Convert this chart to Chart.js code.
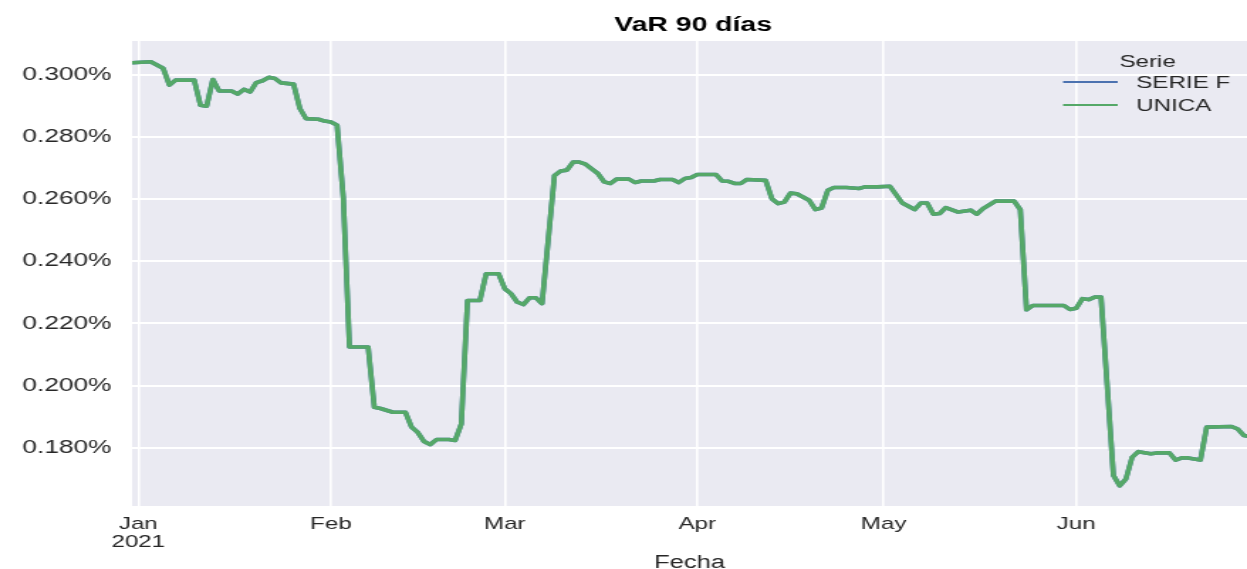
<!DOCTYPE html>
<html>
<head>
<meta charset="utf-8">
<script src="https://cdn.jsdelivr.net/npm/chart.js@4.4.1/dist/chart.umd.min.js"></script>
<style>
  html, body { margin: 0; padding: 0; background: #ffffff; overflow: hidden; }
</style>
</head>
<body>
<canvas id="c" width="878" height="569" style="display:block;width:1247px;height:569px;"></canvas>
<script>
// ---- data (values in %) ----
const dates = [
  '2020-12-31','2021-01-03','2021-01-05','2021-01-06','2021-01-07','2021-01-10','2021-01-11','2021-01-12',
  '2021-01-13','2021-01-14','2021-01-16','2021-01-17','2021-01-18','2021-01-19','2021-01-20','2021-01-21',
  '2021-01-22','2021-01-23','2021-01-24','2021-01-26','2021-01-27','2021-01-28','2021-01-30','2021-01-31',
  '2021-02-01','2021-02-02','2021-02-03','2021-02-04','2021-02-07','2021-02-08','2021-02-09','2021-02-11',
  '2021-02-13','2021-02-14','2021-02-15','2021-02-16','2021-02-17','2021-02-18','2021-02-20','2021-02-21',
  '2021-02-22','2021-02-23','2021-02-25','2021-02-26','2021-02-28',
  '2021-03-01','2021-03-02','2021-03-03','2021-03-04','2021-03-05','2021-03-06','2021-03-07','2021-03-09',
  '2021-03-10','2021-03-11','2021-03-12','2021-03-13','2021-03-14','2021-03-16','2021-03-17','2021-03-18',
  '2021-03-19','2021-03-21','2021-03-22','2021-03-23','2021-03-25','2021-03-26','2021-03-28','2021-03-29',
  '2021-03-30','2021-03-31',
  '2021-04-01','2021-04-04','2021-04-05','2021-04-06','2021-04-07','2021-04-08','2021-04-09','2021-04-12',
  '2021-04-13','2021-04-14','2021-04-15','2021-04-16','2021-04-17','2021-04-19','2021-04-20','2021-04-21',
  '2021-04-22','2021-04-23','2021-04-25','2021-04-27','2021-04-28','2021-04-30',
  '2021-05-02','2021-05-04','2021-05-06','2021-05-07','2021-05-08','2021-05-09','2021-05-10','2021-05-11',
  '2021-05-13','2021-05-15','2021-05-16','2021-05-17','2021-05-19','2021-05-22','2021-05-23','2021-05-24',
  '2021-05-25','2021-05-30','2021-05-31',
  '2021-06-01','2021-06-02','2021-06-03','2021-06-04','2021-06-05','2021-06-07','2021-06-08','2021-06-09',
  '2021-06-10','2021-06-11','2021-06-13','2021-06-14','2021-06-16','2021-06-17','2021-06-18','2021-06-19',
  '2021-06-21','2021-06-22','2021-06-26','2021-06-27','2021-06-28','2021-06-29'
];
const unicaValues = [
  0.3040,0.3043,0.3022,0.2968,0.2984,0.2984,0.2903,0.2900,0.2986,0.2949,0.2949,0.2939,0.2954,0.2946,0.2976,0.2982,
  0.2993,0.2989,0.2975,0.2971,0.2893,0.2860,0.2858,0.2852,
  0.2849,0.2839,0.2607,0.2124,0.2124,0.1930,0.1926,0.1914,0.1914,0.1866,0.1849,0.1820,0.1810,0.1826,0.1826,0.1823,
  0.1876,0.2274,0.2274,0.2360,0.2360,
  0.2312,0.2296,0.2269,0.2261,0.2283,0.2283,0.2264,0.2677,0.2691,0.2694,0.2720,0.2720,0.2713,0.2683,0.2656,0.2651,
  0.2665,0.2665,0.2654,0.2659,0.2659,0.2664,0.2664,0.2654,0.2667,0.2670,
  0.2680,0.2680,0.2659,0.2658,0.2651,0.2651,0.2664,0.2661,0.2602,0.2586,0.2591,0.2620,0.2618,0.2597,0.2567,0.2572,
  0.2629,0.2638,0.2638,0.2635,0.2640,0.2640,
  0.2642,0.2588,0.2567,0.2588,0.2588,0.2552,0.2554,0.2573,0.2559,0.2565,0.2552,0.2570,0.2594,0.2594,0.2567,0.2244,
  0.2258,0.2258,0.2245,
  0.2249,0.2280,0.2277,0.2285,0.2285,0.1710,0.1677,0.1699,0.1769,0.1787,0.1780,0.1783,0.1783,0.1760,0.1767,0.1767,
  0.1760,0.1866,0.1868,0.1860,0.1839,0.1835
];
const serieFValues = unicaValues.slice(); // hidden beneath UNICA (identical)
const seriesNames = ['SERIE F', 'UNICA'];
const seriesColors = ['#4C72B0', '#55A868'];
const monthTickDates = ['2021-01-01','2021-02-01','2021-03-01','2021-04-01','2021-05-01','2021-06-01'];
const monthLabels = [['Jan','2021'],'Feb','Mar','Apr','May','Jun'];
const yTicks = [0.18, 0.20, 0.22, 0.24, 0.26, 0.28, 0.30];
const xStartDate = '2020-12-31';
const xEndDate = '2021-06-28';

// ---- helpers ----
const BASE = Date.UTC(2021, 0, 1);
function dayNum(s) {
  const [y, m, d] = s.split('-').map(Number);
  return Math.round((Date.UTC(y, m - 1, d) - BASE) / 86400000);
}
const monthTicks = monthTickDates.map(dayNum);
function toPoints(vals) { return vals.map((v, i) => ({ x: dayNum(dates[i]), y: v })); }

const FONT = '"Liberation Sans", Arial, Helvetica, sans-serif';
const TEXT = '#262626';

const bgPlugin = {
  id: 'bg',
  beforeDraw(chart) {
    const { ctx, chartArea: a } = chart;
    ctx.save();
    ctx.fillStyle = '#EAEAF2';
    ctx.fillRect(a.left, a.top, a.right - a.left, a.bottom - a.top);
    ctx.restore();
  }
};

const overlayPlugin = {
  id: 'overlay',
  afterDraw(chart) {
    const ctx = chart.ctx;
    ctx.save();
    // title
    ctx.fillStyle = '#000000';
    ctx.font = 'bold 20px ' + FONT;
    ctx.textAlign = 'center';
    ctx.textBaseline = 'middle';
    ctx.fillText('VaR 90 días', 488, 25);
    // legend
    ctx.fillStyle = TEXT;
    ctx.font = '17px ' + FONT;
    ctx.fillText('Serie', 808, 62);
    ctx.textAlign = 'left';
    const ys = [82, 105];
    seriesNames.forEach((name, i) => {
      ctx.strokeStyle = seriesColors[i];
      ctx.lineWidth = 2.2;
      ctx.beginPath();
      ctx.moveTo(748.5, ys[i]);
      ctx.lineTo(787, ys[i]);
      ctx.stroke();
      ctx.fillStyle = TEXT;
      ctx.fillText(name, 800, ys[i] + 1);
    });
    ctx.restore();
  }
};

new Chart(document.getElementById('c'), {
  type: 'line',
  data: {
    datasets: [
      { label: seriesNames[0], data: toPoints(serieFValues), borderColor: seriesColors[0], borderWidth: 3.6,
        pointRadius: 0, tension: 0, order: 2, borderJoinStyle: 'round' },
      { label: seriesNames[1], data: toPoints(unicaValues), borderColor: seriesColors[1], borderWidth: 3.6,
        pointRadius: 0, tension: 0, order: 1, borderJoinStyle: 'round' }
    ]
  },
  options: {
    responsive: false,
    animation: false,
    devicePixelRatio: 1,
    layout: { padding: { top: 41, left: 0, right: 0, bottom: 0 } },
    plugins: { legend: { display: false }, title: { display: false }, tooltip: { enabled: false } },
    scales: {
      x: {
        type: 'linear',
        min: dayNum(xStartDate),
        max: dayNum(xEndDate) + 0.5,
        afterBuildTicks(scale) { scale.ticks = monthTicks.map(v => ({ value: v })); },
        afterFit(scale) { scale.height = 63; },
        grid: { color: '#ffffff', lineWidth: 1.6, drawTicks: false },
        border: { display: false },
        ticks: {
          autoSkip: false, maxRotation: 0, padding: 9, color: TEXT,
          font: { family: FONT, size: 17, lineHeight: 1.08 },
          callback(value) { const i = monthTicks.indexOf(value); return i >= 0 ? monthLabels[i] : ''; }
        },
        title: { display: true, text: 'Fecha', color: TEXT, font: { family: FONT, size: 18, lineHeight: 1 },
                 padding: { top: 0, bottom: -3 } }
      },
      y: {
        min: 0.1612,
        max: 0.311,
        afterBuildTicks(scale) { scale.ticks = yTicks.map(v => ({ value: v })); },
        afterFit(scale) { scale.width = 93; },
        grid: { color: '#ffffff', lineWidth: 2, drawTicks: false },
        border: { display: false },
        ticks: {
          padding: 14.5, color: TEXT, font: { family: FONT, size: 18.5 },
          callback(value) { return value.toFixed(3) + '%'; }
        }
      }
    }
  },
  plugins: [bgPlugin, overlayPlugin]
});
</script>
</body>
</html>
